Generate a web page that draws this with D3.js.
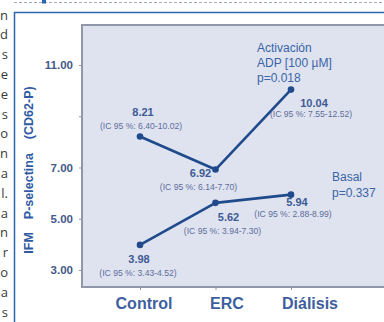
<!DOCTYPE html>
<html>
<head>
<meta charset="utf-8">
<script src="https://cdn.jsdelivr.net/npm/d3@7"></script>
<style>
  html, body { margin: 0; padding: 0; background: #ffffff; }
  svg { display: block; }
</style>
</head>
<body>
<svg id="chart" width="384" height="322"></svg>
<script>
// Groups along the x axis
const categories = ["Control", "ERC", "Diálisis"];

// Mean IFM of P-selectin (CD62-P) per group
const activacionValues = [8.21, 6.92, 10.04];
const basalValues = [3.98, 5.62, 5.94];

// 95 % confidence intervals, written as printed
const activacionCI = ["6.40-10.02", "6.14-7.70", "7.55-12.52"];
const basalCI = ["3.43-4.52", "3.94-7.30", "2.88-8.99"];

// Y axis ticks and which of them carry a label
const yTicks = [3, 5, 7, 9, 11];
const yTickLabels = ["3.00", "5.00", "7.00", "", "11.00"];

// Series captions
const activacionCaption = ["Activación", "ADP [100 µM]", "p=0.018"];
const basalCaption = ["Basal", "p=0.337"];

// Line endings of the page text running beside the figure
const sideText = ["n", "d", "s", "e", "e", "s", "o", "n", "a", "l.", "a", "n", "r", "o", "a", "s"];

const svg = d3.select("#chart");
const W = 384, H = 322;

const blue = "#2a66b0";
const lineCol = "#1f4a8c";
const labelCol = "#3d5a95";
const ciCol = "#5d6d9b";

// ---- page furniture ----
svg.append("line")
  .attr("x1", 14).attr("x2", W).attr("y1", 2.5).attr("y2", 2.5)
  .attr("stroke", "#a3abb8").attr("stroke-width", 1)
  .attr("stroke-dasharray", "3,2");
svg.append("rect")
  .attr("x", 42).attr("y", 0).attr("width", 4).attr("height", 3.5)
  .attr("fill", blue);

svg.append("g")
  .selectAll("text")
  .data(sideText)
  .join("text")
  .attr("x", 8)
  .attr("y", (d, i) => 15 + i * 19.8)
  .attr("dy", "0.35em")
  .attr("text-anchor", "end")
  .attr("font-family", "'Open Sans', 'DejaVu Sans', sans-serif")
  .attr("font-size", 13)
  .attr("fill", "#3b3b3b")
  .text(d => d);

// Blue frame around the figure
svg.append("path")
  .attr("d", `M14.5,${H} V12.5 H${W}`)
  .attr("fill", "none")
  .attr("stroke", blue)
  .attr("stroke-width", 1.5);

// ---- plot area ----
const plot = { left: 82, top: 25, bottom: 287 };

svg.append("rect")
  .attr("x", plot.left).attr("y", plot.top)
  .attr("width", W - plot.left + 10).attr("height", plot.bottom - plot.top)
  .attr("fill", "#dfe3ef")
  .attr("stroke", "#8f97a8")
  .attr("stroke-width", 2);

const y = d3.scaleLinear().domain([3, 11]).range([270, 65]);
const x = d3.scalePoint().domain(categories).range([140, 291]);
const xLabel = d3.scalePoint().domain(categories).range([144, 310]);

// Y axis: tick marks and labels
const yAxis = svg.append("g")
  .attr("transform", `translate(${plot.left},0)`)
  .call(d3.axisLeft(y).tickValues(yTicks).tickSize(3).tickPadding(6)
    .tickFormat((d, i) => yTickLabels[i]));
yAxis.select(".domain").remove();
yAxis.selectAll(".tick line").attr("stroke", "#8f97a8");
yAxis.selectAll(".tick text")
  .attr("font-family", "'Liberation Sans', Arial, sans-serif")
  .attr("font-weight", "bold")
  .attr("font-size", 11.5)
  .attr("fill", "#44598a");

// X axis: small tick marks at each group
const xAxis = svg.append("g")
  .attr("transform", `translate(0,${plot.bottom})`)
  .call(d3.axisBottom(x).tickSize(3).tickFormat(""));
xAxis.select(".domain").remove();
xAxis.selectAll(".tick line").attr("stroke", "#8f97a8");

// Group names
svg.append("g")
  .selectAll("text")
  .data(categories)
  .join("text")
  .attr("x", d => xLabel(d))
  .attr("y", 303)
  .attr("dy", "0.35em")
  .attr("text-anchor", "middle")
  .attr("font-family", "'Liberation Sans', Arial, sans-serif")
  .attr("font-weight", "bold")
  .attr("font-size", 16)
  .attr("fill", "#3e5f9e")
  .text(d => d);

// Y axis title
const yTitle = svg.append("text")
  .attr("transform", "translate(29,170) rotate(-90)")
  .attr("text-anchor", "middle")
  .attr("dy", "0.35em")
  .attr("font-family", "'Liberation Sans', Arial, sans-serif")
  .attr("font-weight", "bold")
  .attr("font-size", 12.5)
  .attr("fill", "#2f5ba3");
yTitle.append("tspan").text("IFM");
yTitle.append("tspan").attr("dx", 13).text("P-selectina");
yTitle.append("tspan").attr("dx", 14).text("(CD62-P)");

// ---- series ----
const series = [
  {
    values: activacionValues, ci: activacionCI,
    // label offsets from each point: [value dx, value dy, ci dx, ci dy]
    offsets: [[3, -24, 1, -11], [-15, 4, -17, 17], [23, 14, 20, 24]]
  },
  {
    values: basalValues, ci: basalCI,
    offsets: [[-1, 14, -2, 28], [13, 14, 7, 28], [6, 7, 2, 19]]
  }
];

const line = d3.line()
  .x(d => x(d.cat))
  .y(d => y(d.v));

series.forEach(s => {
  const pts = categories.map((c, i) => ({ cat: c, v: s.values[i], ci: s.ci[i], off: s.offsets[i] }));

  svg.append("path")
    .datum(pts)
    .attr("d", line)
    .attr("fill", "none")
    .attr("stroke", lineCol)
    .attr("stroke-width", 2.6)
    .attr("stroke-linejoin", "round");

  svg.append("g")
    .selectAll("circle")
    .data(pts)
    .join("circle")
    .attr("cx", d => x(d.cat))
    .attr("cy", d => y(d.v))
    .attr("r", 3.3)
    .attr("fill", lineCol);

  svg.append("g")
    .selectAll("text")
    .data(pts)
    .join("text")
    .attr("x", d => x(d.cat) + d.off[0])
    .attr("y", d => y(d.v) + d.off[1])
    .attr("dy", "0.35em")
    .attr("text-anchor", "middle")
    .attr("font-family", "'Liberation Sans', Arial, sans-serif")
    .attr("font-weight", "bold")
    .attr("font-size", 11)
    .attr("fill", labelCol)
    .text(d => d3.format(".2f")(d.v));

  svg.append("g")
    .selectAll("text")
    .data(pts)
    .join("text")
    .attr("x", d => x(d.cat) + d.off[2])
    .attr("y", d => y(d.v) + d.off[3])
    .attr("dy", "0.35em")
    .attr("text-anchor", "middle")
    .attr("font-family", "'Liberation Sans', Arial, sans-serif")
    .attr("font-size", 8.6)
    .attr("fill", ciCol)
    .text(d => `(IC 95 %: ${d.ci})`);
});

// Series captions
svg.append("g")
  .selectAll("text")
  .data(activacionCaption)
  .join("text")
  .attr("x", 257)
  .attr("y", (d, i) => 48 + i * 15)
  .attr("dy", "0.35em")
  .attr("font-family", "'Liberation Sans', Arial, sans-serif")
  .attr("font-size", 12)
  .attr("fill", "#3a64a8")
  .text(d => d);

svg.append("g")
  .selectAll("text")
  .data(basalCaption)
  .join("text")
  .attr("x", 332)
  .attr("y", (d, i) => 177 + i * 16)
  .attr("dy", "0.35em")
  .attr("font-family", "'Liberation Sans', Arial, sans-serif")
  .attr("font-size", 12)
  .attr("fill", "#3a64a8")
  .text(d => d);
</script>
</body>
</html>
